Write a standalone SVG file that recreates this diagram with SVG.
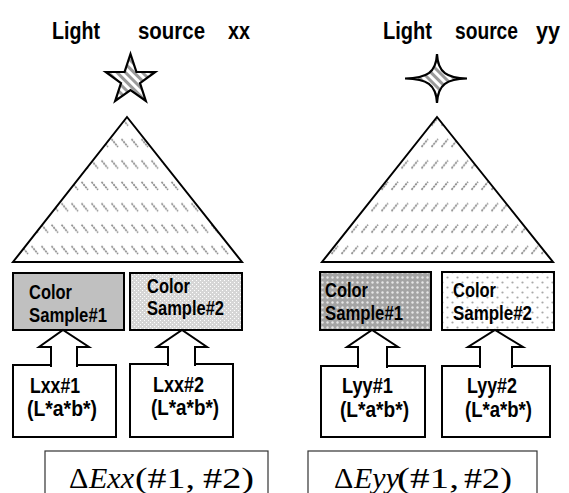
<svg xmlns="http://www.w3.org/2000/svg" width="569" height="493" viewBox="0 0 569 493">
<style>
.t{font-family:"Liberation Sans",Arial,sans-serif;font-weight:bold;fill:#000}
.title{font-size:23px}
.lab{font-size:19.5px}
.meas{font-size:21.5px}
.math{font-family:"Liberation Serif","Times New Roman",serif;font-size:30px;fill:#000}
.it{font-style:italic}
.box{stroke:#000;stroke-width:2;stroke-linejoin:miter}
.cone{stroke:#000;stroke-width:2;stroke-linejoin:miter}
.star{stroke:#000;stroke-width:2.2;stroke-linejoin:miter}
.callout{fill:#fff;stroke:#000;stroke-width:2;stroke-linecap:square;stroke-linejoin:miter}
.dbox{fill:#fff;stroke:#333;stroke-width:1.2}
</style>
<defs>
<pattern id="pCone1" patternUnits="userSpaceOnUse" x="0" y="132.5" width="10" height="21.4">
<rect width="10" height="21.4" fill="#fff"/>
<line x1="1.5" y1="6.5" x2="8" y2="14.5" stroke="#8e8e8e" stroke-width="1.7" stroke-dasharray="2.2 0.8"/>
</pattern>
<pattern id="pCone2" patternUnits="userSpaceOnUse" x="0" y="132.5" width="10" height="21.4">
<rect width="10" height="21.4" fill="#fff"/>
<line x1="1.5" y1="14.5" x2="8" y2="6.5" stroke="#8e8e8e" stroke-width="1.7" stroke-dasharray="2.2 0.8"/>
</pattern>
<pattern id="pStripe" patternUnits="userSpaceOnUse" width="6" height="6" patternTransform="rotate(-45)">
<rect width="6" height="6" fill="#fff"/>
<rect width="3" height="6" fill="#9a9a9a"/>
</pattern>
<pattern id="pS12" patternUnits="userSpaceOnUse" width="4" height="4">
<rect width="4" height="4" fill="#d6d6d6"/>
<rect x="0" y="0" width="1" height="1" fill="#fff"/>
<rect x="2" y="2" width="1" height="1" fill="#fff"/>
</pattern>
<pattern id="pS21" patternUnits="userSpaceOnUse" width="5" height="5">
<rect width="5" height="5" fill="#a4a4a4"/>
<circle cx="2.5" cy="2.5" r="1.2" fill="#e6e6e6"/>
</pattern>
<pattern id="pS22" patternUnits="userSpaceOnUse" width="10" height="10">
<rect width="10" height="10" fill="#fff"/>
<circle cx="2.5" cy="2.5" r="1.1" fill="#a8a8a8"/>
<circle cx="7.5" cy="7.5" r="1.1" fill="#a8a8a8"/>
</pattern>
</defs>

<g id="title-xx" class="t title">
<text x="52" y="39" textLength="48" lengthAdjust="spacingAndGlyphs">Light</text>
<text x="138" y="39" textLength="67" lengthAdjust="spacingAndGlyphs">source</text>
<text x="228" y="39" textLength="22" lengthAdjust="spacingAndGlyphs">xx</text>
</g>
<g id="title-yy" class="t title">
<text x="383" y="39" textLength="49" lengthAdjust="spacingAndGlyphs">Light</text>
<text x="455" y="39" textLength="63" lengthAdjust="spacingAndGlyphs">source</text>
<text x="536" y="39" textLength="24" lengthAdjust="spacingAndGlyphs">yy</text>
</g>

<g id="star-xx">
<path class="star" fill="url(#pStripe)" d="M130.5,54 L136.4,71.9 L155.2,72 L140,83.1 L145.8,101 L130.5,90 L115.2,101 L121,83.1 L105.8,72 L124.6,71.9 Z"/>
</g>
<g id="star-yy">
<path class="star" fill="url(#pStripe)" d="M437,54 C438,73 447,78 467,78.5 C447,79 438,84 437,103 C436,84 427,79 405,78.5 C427,78 436,73 437,54 Z"/>
</g>

<g id="cone-xx">
<path class="cone" fill="url(#pCone1)" d="M127,117 L242,262 L13,262 Z"/>
</g>
<g id="cone-yy">
<path class="cone" fill="url(#pCone2)" d="M437,117 L553,262 L322,262 Z"/>
</g>

<g id="sample-xx-1">
<rect class="box" x="13" y="273" width="111" height="57" fill="#c0c0c0"/>
<text class="t lab" x="29" y="299" textLength="43" lengthAdjust="spacingAndGlyphs">Color</text>
<text class="t lab" x="29" y="322" textLength="78" lengthAdjust="spacingAndGlyphs">Sample#1</text>
</g>
<g id="sample-xx-2">
<rect class="box" x="130" y="273" width="112" height="57" fill="url(#pS12)"/>
<text class="t lab" x="147" y="293" textLength="43" lengthAdjust="spacingAndGlyphs">Color</text>
<text class="t lab" x="147" y="315" textLength="77" lengthAdjust="spacingAndGlyphs">Sample#2</text>
</g>
<g id="sample-yy-1">
<rect class="box" x="320" y="272" width="111" height="58" fill="url(#pS21)"/>
<text class="t lab" x="325" y="297" textLength="43" lengthAdjust="spacingAndGlyphs">Color</text>
<text class="t lab" x="325" y="320" textLength="78" lengthAdjust="spacingAndGlyphs">Sample#1</text>
</g>
<g id="sample-yy-2">
<rect class="box" x="442" y="272" width="112" height="58" fill="url(#pS22)"/>
<text class="t lab" x="453" y="297" textLength="43" lengthAdjust="spacingAndGlyphs">Color</text>
<text class="t lab" x="453" y="320" textLength="79" lengthAdjust="spacingAndGlyphs">Sample#2</text>
</g>

<g id="meas-xx-1">
<path class="callout" d="M51,365 H13 V437 H116 V365 H77"/>
<text class="t meas" x="30" y="393" textLength="50" lengthAdjust="spacingAndGlyphs">Lxx#1</text>
<text class="t meas" x="27" y="416" textLength="70" lengthAdjust="spacingAndGlyphs">(L*a*b*)</text>
</g>
<g id="meas-xx-2">
<path class="callout" d="M168,364 H130 V437 H233 V364 H195"/>
<text class="t meas" x="153" y="392" textLength="51" lengthAdjust="spacingAndGlyphs">Lxx#2</text>
<text class="t meas" x="151" y="415" textLength="68" lengthAdjust="spacingAndGlyphs">(L*a*b*)</text>
</g>
<g id="meas-yy-1">
<path class="callout" d="M358,366 H321 V437 H425 V366 H387"/>
<text class="t meas" x="342" y="393" textLength="51" lengthAdjust="spacingAndGlyphs">Lyy#1</text>
<text class="t meas" x="340" y="417" textLength="69" lengthAdjust="spacingAndGlyphs">(L*a*b*)</text>
</g>
<g id="meas-yy-2">
<path class="callout" d="M480,366 H442 V437 H550 V366 H512"/>
<text class="t meas" x="467" y="393" textLength="50" lengthAdjust="spacingAndGlyphs">Lyy#2</text>
<text class="t meas" x="465" y="417" textLength="67" lengthAdjust="spacingAndGlyphs">(L*a*b*)</text>
</g>

<g id="connectors">
<path class="callout" d="M51,366 V347 H39 L63,330 L89,347 H77 V366"/>
<path class="callout" d="M168,365 V347 H157 L182,330 L207,347 H195 V365"/>
<path class="callout" d="M358,367 V347 H347 L372,330 L398,347 H387 V367"/>
<path class="callout" d="M480,367 V347 H468 L495,330 L523,347 H512 V367"/>
</g>

<g id="delta-xx">
<rect class="dbox" x="45" y="451" width="223" height="60"/>
<text class="math" y="488"><tspan x="69">Δ</tspan><tspan x="89" class="it">Exx</tspan><tspan x="135" textLength="60" lengthAdjust="spacingAndGlyphs">(#1,</tspan><tspan x="203" textLength="51" lengthAdjust="spacingAndGlyphs">#2)</tspan></text>
</g>
<g id="delta-yy">
<rect class="dbox" x="308" y="451" width="229" height="60"/>
<text class="math" y="488"><tspan x="334">Δ</tspan><tspan x="354" class="it">Eyy</tspan><tspan x="397" textLength="62" lengthAdjust="spacingAndGlyphs">(#1,</tspan><tspan x="464" textLength="48" lengthAdjust="spacingAndGlyphs">#2)</tspan></text>
</g>
</svg>
